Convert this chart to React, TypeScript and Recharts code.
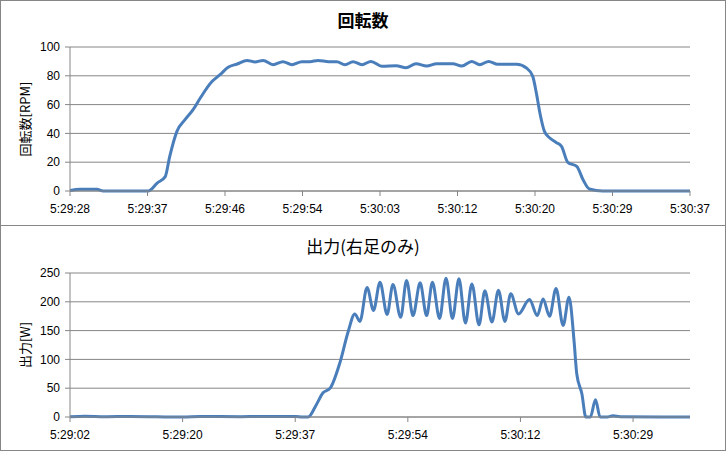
import React from 'react';
import { LineChart, Line, XAxis, YAxis, CartesianGrid } from 'recharts';

// ---- Top chart: 回転数 (RPM) ----
const topTime = [0, 1.1, 2.2, 3.0, 3.7, 8.7, 9.7, 10.6, 11.1, 11.9, 12.8, 13.7, 14.5, 15.8, 16.7, 17.6, 18.6, 19.7, 20.6, 21.5, 22.6, 23.7, 24.7, 25.8, 26.7, 27.6, 28.8, 29.7, 30.6, 31.5, 32.5, 33.5, 34.7, 36.3, 37.4, 38.5, 39.7, 40.8, 42.6, 43.6, 44.7, 45.6, 46.6, 47.6, 49.7, 50.8, 51.5, 51.9, 52.3, 52.8, 53.4, 54.1, 54.7, 55.4, 56.4, 57.1, 57.8, 59.3, 69];
const topRpm = [0.4, 1.3, 1.3, 1.2, 0, 0, 5.5, 10, 24, 41.4, 49.5, 56.5, 64.6, 76, 80.8, 85.9, 88.2, 90.7, 89.6, 90.7, 87.7, 89.8, 87.7, 89.8, 89.8, 90.7, 89.8, 89.8, 87.7, 89.8, 87.7, 90, 86.6, 87, 85.6, 88.4, 86.8, 88.4, 88.4, 86.8, 90, 87.7, 90, 88, 88, 85.4, 79.6, 68, 54, 41.4, 36.8, 33.7, 31, 19.9, 17.1, 7.8, 1.4, 0, 0];
const topTickPos = [0, 8.625, 17.25, 25.875, 34.5, 43.125, 51.75, 60.375, 69];
const topTickLabels = ['5:29:28', '5:29:37', '5:29:46', '5:29:54', '5:30:03', '5:30:12', '5:30:20', '5:30:29', '5:30:37'];
const topYTicks = [0, 20, 40, 60, 80, 100];

// ---- Bottom chart: 出力 (W) ----
const bottomTime = [0, 2.3, 5.4, 9.3, 17.5, 20.1, 26.3, 29.4, 34.9, 35.9, 36.8, 38.0, 39.1, 40.2, 41.7, 43.0, 44.0, 44.8, 45.9, 46.9, 47.9, 49.0, 49.9, 51.1, 52.0, 53.0, 54.1, 55.1, 56.0, 57.1, 58.1, 59.1, 60.1, 61.1, 62.1, 63.2, 64.1, 65.2, 66.2, 67.2, 68.1, 69.3, 71.0, 72.2, 73.1, 74.1, 75.1, 76.2, 77.1, 77.9, 78.3, 79.1, 79.7, 80.4, 81.2, 81.9, 83.0, 83.9, 85.0, 95.8];
const bottomWatt = [0.5, 1.5, 0.5, 1, 0, 1, 0.5, 1, 1, 0, 0, 20, 42, 50, 94, 149, 179, 166, 225, 185, 234, 178, 230, 173, 237, 176, 233, 176, 234, 171, 241, 171, 240, 163, 231, 160, 219, 165, 220, 166, 214, 179, 204, 176, 205, 175, 223, 159, 208, 130, 75, 40, 0, 0, 30, 0, 0, 2, 0.5, 0];
const bottomTickPos = [0, 17.4, 34.8, 52.2, 69.6, 87];
const bottomTickLabels = ['5:29:02', '5:29:20', '5:29:37', '5:29:54', '5:30:12', '5:30:29'];
const bottomYTicks = [0, 50, 100, 150, 200, 250];

const topData = topTime.map((t, i) => ({ t, v: topRpm[i] }));
const bottomData = bottomTime.map((t, i) => ({ t, v: bottomWatt[i] }));

const GRID = '#868686';
const LINE = '#4A7EBB';
const tickStyle = { fontSize: 12, fill: '#000', fontFamily: '"Liberation Sans", Arial, sans-serif' };

const makeYLabel = (text: string) => (props: any) => {
  const vb = props.viewBox || { x: 0, y: 46, width: 69, height: 144 };
  const cx = vb.x + 23;
  const cy = vb.y + vb.height / 2;
  return (
    <text
      x={cx}
      y={cy}
      transform={`rotate(-90 ${cx} ${cy})`}
      textAnchor="middle"
      dominantBaseline="central"
      fontSize={13}
      fill="#000"
      fontFamily='"Noto Sans CJK JP", sans-serif'
    >
      {text}
    </text>
  );
};

type PanelProps = {
  title: string;
  bold: boolean;
  titleTop: number;
  data: { t: number; v: number }[];
  domainX: [number, number];
  ticksX: number[];
  labelsX: string[];
  ticksY: number[];
  maxY: number;
  yLabel: string;
  marginTop: number;
  xHeight: number;
  borderBottom?: boolean;
};

function Panel(p: PanelProps) {
  return (
    <div
      style={{
        position: 'relative',
        width: 724,
        height: 224,
        borderBottom: p.borderBottom ? `1px solid ${GRID}` : undefined,
      }}
    >
      <div
        style={{
          position: 'absolute',
          top: p.titleTop,
          left: 0,
          width: 724,
          textAlign: 'center',
          fontSize: 17,
          lineHeight: '17px',
          fontWeight: p.bold ? 700 : 400,
          fontFamily: '"Noto Sans CJK JP", sans-serif',
          color: '#000',
        }}
      >
        {p.title}
      </div>
      <LineChart width={724} height={224} data={p.data} margin={{ top: p.marginTop, right: 35, bottom: 0, left: 0 }}>
        <CartesianGrid vertical={false} stroke={GRID} strokeWidth={1} />
        <XAxis
          dataKey="t"
          type="number"
          domain={p.domainX}
          ticks={p.ticksX}
          interval={0}
          height={p.xHeight}
          tickFormatter={(v: number) => {
            const idx = p.ticksX.indexOf(v);
            return idx >= 0 ? p.labelsX[idx] : '';
          }}
          tick={tickStyle}
          tickSize={5}
          tickMargin={8}
          axisLine={{ stroke: GRID }}
          tickLine={{ stroke: GRID }}
        />
        <YAxis
          type="number"
          domain={[0, p.maxY]}
          ticks={p.ticksY}
          interval={0}
          width={69}
          tick={tickStyle}
          tickSize={5}
          tickMargin={5}
          axisLine={{ stroke: GRID }}
          tickLine={{ stroke: GRID }}
          label={makeYLabel(p.yLabel)}
        />
        <Line
          type="monotone"
          dataKey="v"
          stroke={LINE}
          strokeWidth={3}
          dot={false}
          activeDot={false}
          isAnimationActive={false}
        />
      </LineChart>
    </div>
  );
}

export default function App() {
  return (
    <div
      style={{
        position: 'absolute',
        left: 0,
        top: 0,
        width: 726,
        height: 451,
        boxSizing: 'border-box',
        border: `1px solid ${GRID}`,
        background: '#fff',
      }}
    >
      <Panel
        title="回転数"
        bold={true}
        titleTop={9.5}
        data={topData}
        domainX={[0, 69]}
        ticksX={topTickPos}
        labelsX={topTickLabels}
        ticksY={topYTicks}
        maxY={100}
        yLabel="回転数[RPM]"
        marginTop={46}
        xHeight={34}
        borderBottom={true}
      />
      <Panel
        title="出力(右足のみ)"
        bold={false}
        titleTop={11}
        data={bottomData}
        domainX={[0, 95.8]}
        ticksX={bottomTickPos}
        labelsX={bottomTickLabels}
        ticksY={bottomYTicks}
        maxY={250}
        yLabel="出力[W]"
        marginTop={47}
        xHeight={33}
      />
    </div>
  );
}
